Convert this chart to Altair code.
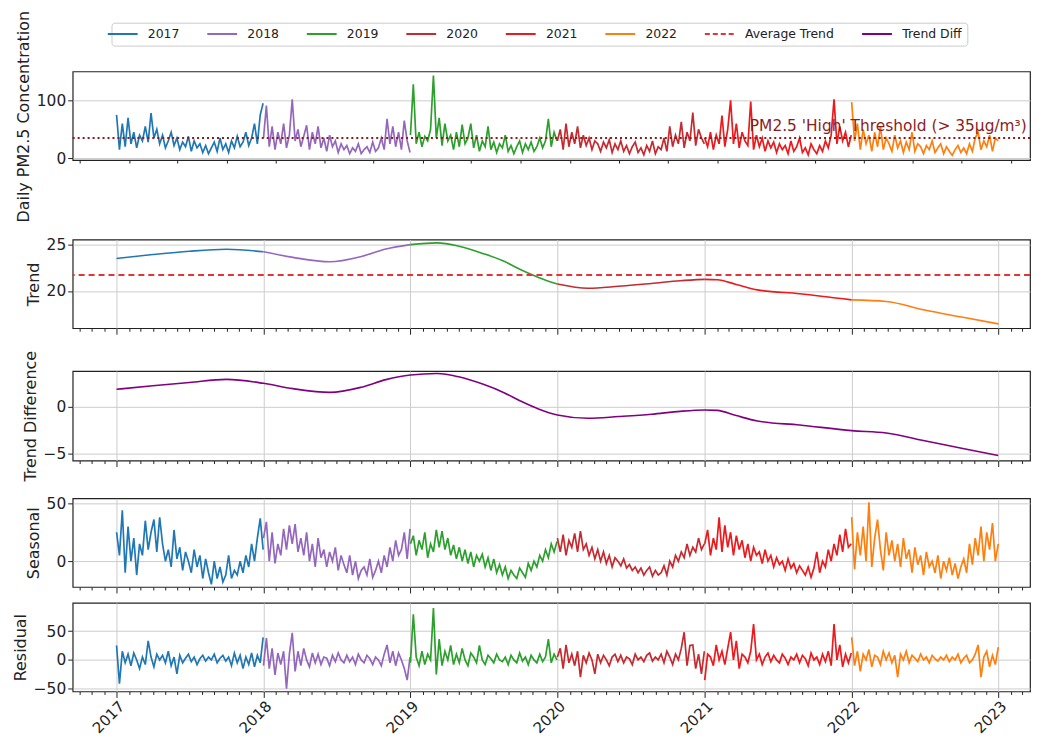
import altair as alt
import pandas as pd

# ---------------- data (weekly samples) ----------------
years = ["2017", "2018", "2019", "2020", "2021", "2022"]

pm_2017 = [75, 15, 60, 20, 70, 25, 45, 18, 40, 30, 55, 28, 78, 35, 50, 25, 40, 18, 30, 45, 22, 35, 15, 28, 20, 38,
           12, 30, 18, 25, 10, 22, 8, 18, 28, 12, 35, 15, 25, 10, 30, 18, 38, 20, 28, 45, 22, 35, 60, 25, 75, 95]
pm_2018 = [35, 91, 20, 55, 15, 45, 25, 60, 18, 40, 102, 30, 50, 20, 38, 57, 15, 45, 25, 55, 18, 35, 12, 40, 20, 30,
           10, 25, 15, 22, 8, 18, 12, 25, 8, 15, 20, 10, 28, 12, 18, 35, 15, 68, 25, 55, 20, 45, 15, 65, 30, 10]
pm_2019 = [40, 128, 25, 45, 20, 38, 30, 50, 143, 35, 70, 22, 60, 30, 40, 15, 45, 20, 58, 25, 35, 60, 18, 40, 12, 30,
           20, 55, 15, 28, 10, 25, 18, 40, 12, 22, 8, 20, 30, 10, 25, 15, 28, 12, 20, 35, 18, 30, 68, 20, 45, 30]
pm_2020 = [30, 50, 15, 60, 20, 45, 25, 55, 18, 40, 22, 35, 15, 30, 25, 12, 28, 18, 32, 10, 25, 15, 30, 12, 22, 8,
           20, 28, 10, 18, 6, 22, 12, 30, 8, 20, 15, 35, 12, 55, 20, 40, 25, 63, 18, 45, 30, 79, 22, 50, 35, 25]
pm_2021 = [35, 20, 45, 15, 40, 25, 74, 20, 50, 100, 25, 60, 18, 45, 30, 22, 98, 15, 40, 20, 35, 12, 30, 18, 28, 10,
           25, 15, 22, 8, 30, 12, 20, 35, 10, 18, 6, 25, 15, 8, 22, 12, 30, 18, 40, 102, 25, 55, 30, 45, 20, 40]
pm_2022 = [97, 30, 60, 15, 50, 25, 40, 12, 45, 20, 55, 15, 35, 25, 12, 40, 18, 30, 10, 28, 15, 45, 12, 25, 20, 8,
           22, 15, 30, 10, 18, 25, 8, 20, 12, 5, 15, 22, 10, 18, 8, 25, 12, 35, 45, 15, 30, 20, 40, 12, 35, 30]

seas_2017 = [25, 5, 44, -10, 30, 0, 20, -12, 15, 5, 35, 10, 25, 36, 8, 38, 15, 0, 10, -5, 27, 2, 12, -8, 8, 0,
             -10, 10, -5, 5, -15, 2, -10, -20, 0, -15, -5, -18, -12, 5, -15, -8, -12, 0, -10, 5, -5, 15, 0, 20, 37, 10]
seas_2018 = [20, 34, 0, 25, -2, 15, 5, 28, 10, 31, 15, 32, 8, 20, 5, 25, 0, 15, -5, 20, 3, 10, -5, 8, 0, 12,
             -8, 5, -3, -10, 5, -12, 0, -15, -8, -5, -12, 2, -14, -8, 0, -10, 5, -5, 12, 0, 18, 5, 10, 25, 2, 28]
seas_2019 = [15, 22, 5, 18, 10, 25, 3, 15, 8, 27, 12, 26, 10, 20, 5, 14, 2, 12, 0, 10, -2, 8, -5, 5, 0, 6,
             -5, 3, -8, 2, -10, -3, -12, -5, -15, -8, -12, -15, -6, -10, -14, -2, -8, 0, -5, 5, 0, 10, 3, 15, 8, 17]
seas_2020 = [20, 8, 23, 5, 18, 12, 24, 8, 26, 10, 15, 5, 12, 2, 10, 0, 8, -2, 5, -5, 3, 0, -4, 2, -6, -3,
             -8, -5, -10, -6, -12, -8, -5, -13, -8, -12, -10, -4, -12, 0, -5, 5, 0, 8, 3, 15, 5, 12, 8, 20, 10, 15]
seas_2021 = [15, 27, 5, 20, 10, 38, 8, 31, 12, 25, 5, 22, 10, 18, 3, 15, 0, 12, 5, 8, -2, 10, 0, 5, -5, 3,
             -3, 0, -8, 2, -6, -2, -10, -4, -8, -12, -5, -14, -6, 8, -10, 0, -5, 10, 0, 15, 5, 23, 8, 28, 12, 15]
seas_2022 = [38, -7, 25, 5, 30, 0, 51, -5, 20, 36, 10, -8, 25, 5, 18, 0, 15, -5, 20, 2, 10, -10, 12, -3, 5, -12,
             8, -5, 0, -10, 5, -15, 0, -8, 3, -12, -2, -15, -5, 2, -10, 15, -3, 20, 5, 30, 0, 25, 10, 33, 0, 15]

res_2017 = [25, -41, 15, -5, 10, -10, 12, 0, -15, 5, -8, 33, 5, -12, 10, 0, 8, -5, 15, -10, 5, -24, 8, -5, 3, 10,
            -3, 5, -8, 2, 8, -2, 5, 0, 10, -5, 3, 8, -2, 5, -10, 12, -5, 8, -15, 5, -8, 12, -12, 8, -5, 39]
res_2018 = [-10, 38, -15, 20, -26, 12, -8, 15, -50, 10, 47, -20, 15, -10, 20, 0, -12, 12, -5, 10, -8, 5, 3, -10, 8, -3,
            12, 0, -5, 8, -3, 5, -8, 10, 0, -5, 8, 2, -8, 5, 0, -10, 10, 26, -5, 15, -10, 12, 0, -15, -35, 5]
res_2019 = [-5, 79, 5, -10, 15, -8, 10, 0, 90, -25, 36, -10, 15, 0, 25, -8, 10, -5, 20, 0, -10, 12, 5, -5, 25, 0,
            -8, 8, 2, -5, 10, 0, -3, 5, -8, 8, 0, -5, 12, -2, 5, -8, 8, 0, -5, 10, -3, 5, 36, -5, 10, 0]
res_2020 = [5, 20, -15, 26, -5, 10, -10, 15, -30, 8, -5, 12, 0, -24, 10, -5, 8, 0, -10, 5, 10, -3, 8, -5, 5, 2,
            -8, 10, 0, 5, -3, 8, 12, -2, 5, 0, 10, -5, 15, 5, -8, 10, 0, 20, 48, -10, 25, 26, -15, 10, -24, 15]
res_2021 = [-35, 10, 5, -10, 26, 0, 15, -8, 20, 48, 0, 33, -15, 10, 5, -5, 15, 62, 0, 10, -8, 5, 12, -3, 8, 0,
            -5, 10, 3, -8, 5, 0, 10, -5, 8, 2, -10, 12, 0, 5, -8, 10, -3, 15, -10, 62, 0, 26, -12, 10, -5, 12]
res_2022 = [39, -10, 15, -20, 10, 0, 18, -12, 8, 5, -8, 15, 0, 12, -5, 8, -30, 10, 0, 15, -5, 8, 3, -3, 10, 0,
            5, -5, 8, 2, -2, 5, 0, 8, -3, 5, 0, 10, -5, 3, 8, -5, 0, 10, 26, -30, 5, 15, -12, 8, -8, 22]

# trend (smooth) per year segment
tr_dates_2017 = ["2017-01-01", "2017-04-01", "2017-07-01", "2017-10-01", "2018-01-01"]
tr_2017 = [23.48, 23.9, 24.26, 24.47, 24.2]
tr_dates_2018 = ["2018-01-01", "2018-03-15", "2018-06-15", "2018-09-01", "2018-11-01", "2019-01-01"]
tr_2018 = [24.2, 23.6, 23.13, 23.7, 24.5, 24.97]
tr_dates_2019 = ["2019-01-01", "2019-03-08", "2019-05-01", "2019-07-01", "2019-08-20", "2019-10-01",
                 "2019-11-15", "2020-01-01"]
tr_2019 = [24.97, 25.15, 24.8, 24.0, 23.2, 22.3, 21.45, 20.74]
tr_dates_2020 = ["2020-01-01", "2020-03-17", "2020-06-01", "2020-08-22", "2020-11-01", "2021-01-01"]
tr_2020 = [20.74, 20.29, 20.5, 20.8, 21.1, 21.24]
tr_dates_2021 = ["2021-01-01", "2021-02-01", "2021-03-20", "2021-05-12", "2021-08-25", "2022-01-01"]
tr_2021 = [21.24, 21.2, 20.7, 20.11, 19.7, 19.04]
tr_dates_2022 = ["2022-01-01", "2022-03-28", "2022-07-01", "2022-10-01", "2023-01-01"]
tr_2022 = [19.04, 18.87, 17.95, 17.2, 16.46]

avg_trend = [21.7]
threshold = [35]

td_dates = ["2017-01-01", "2017-04-01", "2017-07-01", "2017-10-01", "2018-01-01", "2018-03-15", "2018-06-15",
            "2018-09-01", "2018-11-01", "2019-01-01", "2019-03-08", "2019-05-01", "2019-07-01", "2019-08-20",
            "2019-10-01", "2019-11-15", "2020-01-01", "2020-03-17", "2020-06-01", "2020-08-22", "2020-11-01",
            "2021-01-01", "2021-02-01", "2021-03-20", "2021-05-12", "2021-08-25", "2022-01-01", "2022-03-28",
            "2022-07-01", "2022-10-01", "2022-12-31"]
td_vals = [1.83, 2.2, 2.55, 2.88, 2.46, 1.9, 1.5, 2.05, 2.85, 3.34, 3.5, 3.15, 2.35, 1.5, 0.6, -0.25, -0.88,
           -1.23, -1.05, -0.81, -0.5, -0.36, -0.4, -0.95, -1.52, -1.94, -2.54, -2.78, -3.6, -4.4, -5.17]

series_names = ["2017", "2018", "2019", "2020", "2021", "2022", "Average Trend", "Trend Diff"]
series_colors = ["#1f77b4", "#9467bd", "#2ca02c", "#c42a2f", "#ec1a1d", "#ff7f0e", "#e33535", "#800080"]
series_dashes = [[1, 0], [1, 0], [1, 0], [1, 0], [1, 0], [1, 0], [5, 3], [1, 0]]

threshold_label = ["PM2.5 'High' Threshold (> 35μg/m³)"]
label_date = ["2021-04-23"]
label_y = [48]

# ---------------- tables ----------------
def weekly(lists):
    frames = []
    for yr, vals in zip(years, lists):
        d = pd.date_range(f"{yr}-01-01", f"{yr}-12-31", periods=len(vals))
        frames.append(pd.DataFrame({"date": d, "value": vals, "series": yr}))
    return pd.concat(frames, ignore_index=True)

pm_df = weekly([pm_2017, pm_2018, pm_2019, pm_2020, pm_2021, pm_2022])
seas_df = weekly([seas_2017, seas_2018, seas_2019, seas_2020, seas_2021, seas_2022])
res_df = weekly([res_2017, res_2018, res_2019, res_2020, res_2021, res_2022])

tr_frames = []
for yr, ds, vs in zip(years, [tr_dates_2017, tr_dates_2018, tr_dates_2019, tr_dates_2020, tr_dates_2021, tr_dates_2022],
                      [tr_2017, tr_2018, tr_2019, tr_2020, tr_2021, tr_2022]):
    tr_frames.append(pd.DataFrame({"date": pd.to_datetime(ds), "value": vs, "series": yr}))
tr_df = pd.concat(tr_frames, ignore_index=True)
td_df = pd.DataFrame({"date": pd.to_datetime(td_dates), "value": td_vals})
thr_df = pd.DataFrame({"value": threshold})
avg_df = pd.DataFrame({"value": avg_trend})
lab_df = pd.DataFrame({"date": pd.to_datetime(label_date), "value": label_y, "text": threshold_label})

# ---------------- scales / axes ----------------
W = 962
H = 89
FONT = "DejaVu Sans"

month_ticks = [alt.DateTime(year=y, month=m, date=1)
               for y in range(2016, 2024) for m in range(1, 13)
               if (y, m) >= (2016, 10) and (y, m) <= (2023, 3)]
x_scale = alt.Scale(domain=[alt.DateTime(year=2016, month=9, date=14), alt.DateTime(year=2023, month=3, date=20)])
is_year = "month(datum.value) == 0"


def xenc(show_labels):
    ax = alt.Axis(values=month_ticks, title=None, domain=False,
                  tickSize={"condition": {"test": is_year, "value": 6}, "value": 3},
                  gridOpacity={"condition": {"test": is_year, "value": 1}, "value": 0},
                  labels=show_labels, labelExpr="month(datum.value) == 0 ? timeFormat(datum.value, '%Y') : ''",
                  labelAngle=-45, labelAlign="right", labelBaseline="top", labelOverlap=False,
                  labelFlush=False, labelPadding=1, labelFontSize=15)
    return alt.X("date:T", scale=x_scale, axis=ax)


def yenc(title, domain, ticks, title_y=None):
    kw = {}
    if title_y is not None:
        kw["titleY"] = title_y
    return alt.Y("value:Q", scale=alt.Scale(domain=domain, nice=False, zero=False),
                 axis=alt.Axis(values=ticks, title=title, domain=False, tickSize=5, titlePadding=5, **kw))


legend = alt.Legend(orient="none", legendX=39, legendY=-49, direction="horizontal", columns=8,
                    symbolType="M-3,0H3", symbolSize=100, symbolStrokeWidth=2, labelFontSize=12.5,
                    labelFont=FONT, labelOffset=19, columnPadding=23, strokeColor="#cccccc",
                    fillColor="white", padding=5, cornerRadius=3, title=None)
color = alt.Color("series:N", scale=alt.Scale(domain=series_names, range=series_colors), legend=legend)
dash = alt.StrokeDash("series:N", scale=alt.Scale(domain=series_names, range=series_dashes), legend=legend)

# ---------------- panels ----------------
p1_line = alt.Chart(pm_df).mark_line(strokeWidth=1.7, clip=True).encode(
    x=xenc(False), y=yenc("Daily PM2.5 Concentration", [-3, 150], [0, 100], title_y=45),
    color=color, strokeDash=dash, detail="series:N")
p1_thr = alt.Chart(thr_df).mark_rule(color="#8b1a1a", strokeWidth=2, strokeDash=[2, 3]).encode(y="value:Q")
p1_txt = alt.Chart(lab_df).mark_text(align="left", baseline="alphabetic", fontSize=15.5, font=FONT,
                                      color="#8c1c1c", clip=True).encode(x="date:T", y="value:Q", text="text:N")
p1 = alt.layer(p1_line, p1_thr, p1_txt).properties(width=W, height=H)

p2_line = alt.Chart(tr_df).mark_line(strokeWidth=1.6, interpolate="monotone").encode(
    x=xenc(False), y=yenc("Trend", [16.0, 25.5], [20, 25]), color=color, detail="series:N")
p2_avg = alt.Chart(avg_df).mark_rule(color="#e33535", strokeWidth=2, strokeDash=[6, 4]).encode(y="value:Q")
p2 = alt.layer(p2_line, p2_avg).properties(width=W, height=H)

p3 = alt.Chart(td_df).mark_line(strokeWidth=1.6, color="#800080", interpolate="monotone").encode(
    x=xenc(False), y=yenc("Trend Difference", [-5.7, 3.76], [-5, 0])).properties(width=W, height=90)

p4 = alt.Chart(seas_df).mark_line(strokeWidth=1.7, clip=True).encode(
    x=xenc(False), y=yenc("Seasonal", [-22.3, 54.3], [0, 50]), color=color, detail="series:N"
).properties(width=W, height=H)

p5 = alt.Chart(res_df).mark_line(strokeWidth=1.7, clip=True).encode(
    x=xenc(True), y=yenc("Residual", [-54.6, 98.8], [-50, 0, 50]), color=color, detail="series:N"
).properties(width=W, height=H)


def spacer(h):
    return alt.Chart(pd.DataFrame({"s": [0]})).mark_point(opacity=0).encode(
        x=alt.X("s:Q", axis=None), y=alt.Y("s:Q", axis=None)
    ).properties(width=W, height=h, view=alt.ViewBackground(stroke="transparent"))


chart = alt.vconcat(p1, spacer(80), p2, spacer(43), p3, spacer(38), p4, spacer(16), p5,
                    spacing=0, bounds="flush").resolve_scale(color="shared", strokeDash="shared").properties(
    padding={"left": 3, "top": 0, "right": 0, "bottom": 0}
).configure_view(stroke="#222222", strokeWidth=1.2).configure_axis(
    labelFont=FONT, titleFont=FONT, labelFontSize=15.5, titleFontSize=16, titleFontWeight="normal",
    labelColor="#222222", titleColor="#222222", tickColor="#222222", gridColor="#cccccc", gridWidth=1
).configure_legend(labelColor="#222222")

chart.save("out.html", embed_options={"renderer": "svg", "actions": False})
